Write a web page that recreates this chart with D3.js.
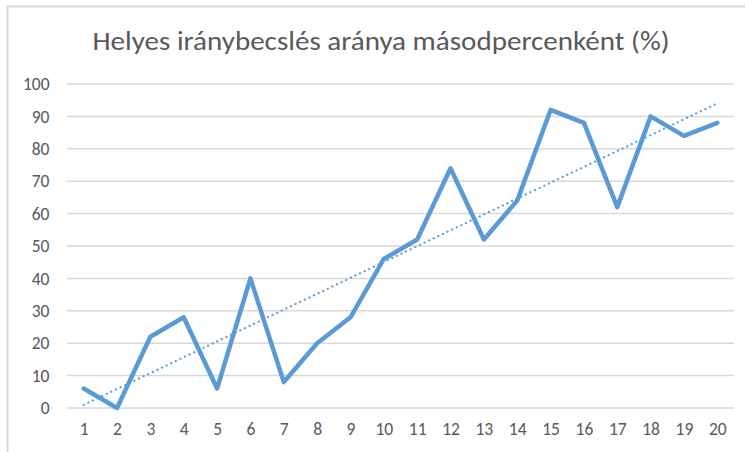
<!DOCTYPE html>
<html>
<head>
<meta charset="utf-8">
<script src="https://cdn.jsdelivr.net/npm/d3@7"></script>
<style>
  html, body { margin: 0; padding: 0; background: #fff; }
  svg { display: block; }
</style>
</head>
<body>
<svg id="chart" width="745" height="452"></svg>
<script>
const titleText = "Helyes iránybecslés aránya másodpercenként  (%)";
const categories = [1,2,3,4,5,6,7,8,9,10,11,12,13,14,15,16,17,18,19,20];
const values = [6,0,22,28,6,40,8,20,28,46,52,74,52,64,92,88,62,90,84,88];
const yTicks = [0,10,20,30,40,50,60,70,80,90,100];

(function () {
const svg = d3.select("#chart");
const W = 745, H = 452;
const pL = 67, pR = 734, pT = 84, pB = 408;
const fontFam = "Carlito, Calibri, Lato, 'Open Sans', sans-serif";

svg.append("rect").attr("width", W).attr("height", H).attr("fill", "#fff");
// frame
svg.append("path").attr("d", `M7.5,${H} V6.5 H${W}`)
  .attr("fill", "none").attr("stroke", "#d9d9d9").attr("stroke-width", 2);

const x = d3.scalePoint().domain(categories).range([pL, pR]).padding(0.5);
const y = d3.scaleLinear().domain([0, 100]).range([pB, pT]);

// gridlines
svg.append("g").selectAll("line").data(yTicks).join("line")
  .attr("x1", pL).attr("x2", pR)
  .attr("y1", d => y(d)).attr("y2", d => y(d))
  .attr("stroke", "#d9d9d9").attr("stroke-width", 1.5);

// y axis labels
const yAxis = d3.axisLeft(y).tickValues(yTicks).tickSize(0).tickPadding(0);
const gy = svg.append("g").attr("transform", `translate(49.5,0)`).call(yAxis);
gy.attr("font-size", null).attr("font-family", null);
gy.select(".domain").remove();
gy.selectAll("text").attr("fill", "#595959")
  .style("font-size", "17.5px").style("font-family", fontFam);

// x axis labels
const xAxis = d3.axisBottom(x).tickSize(0).tickPadding(0);
const gx = svg.append("g").attr("transform", `translate(0,${pB + 15})`).call(xAxis);
gx.attr("font-size", null).attr("font-family", null);
gx.select(".domain").remove();
gx.selectAll("text").attr("fill", "#595959")
  .style("font-size", "17.5px").style("font-family", fontFam);

// trend line (least squares from data)
const n = categories.length;
const mx = d3.mean(categories), my = d3.mean(values);
let sxy = 0, sxx = 0;
categories.forEach((c, i) => { sxy += (c - mx) * (values[i] - my); sxx += (c - mx) * (c - mx); });
const slope = sxy / sxx, icpt = my - slope * mx;
const c0 = categories[0], c1 = categories[n - 1];
svg.append("line")
  .attr("x1", x(c0)).attr("y1", y(icpt + slope * c0))
  .attr("x2", x(c1)).attr("y2", y(icpt + slope * c1))
  .attr("stroke", "#5b9bd5").attr("stroke-width", 2.2)
  .attr("stroke-linecap", "round").attr("stroke-dasharray", "0.1,5");

// data line
const line = d3.line().x((d, i) => x(categories[i])).y(d => y(d));
svg.append("path").datum(values).attr("d", line)
  .attr("fill", "none").attr("stroke", "#5b9bd5").attr("stroke-width", 4.5)
  .attr("stroke-linejoin", "round").attr("stroke-linecap", "round");

// title
svg.append("text").attr("x", 381).attr("y", 49.5).attr("text-anchor", "middle")
  .attr("fill", "#595959").style("font-size", "26px").style("font-family", fontFam)
  .attr("textLength", 577).attr("lengthAdjust", "spacingAndGlyphs")
  .text(titleText);
})();
</script>
</body>
</html>
